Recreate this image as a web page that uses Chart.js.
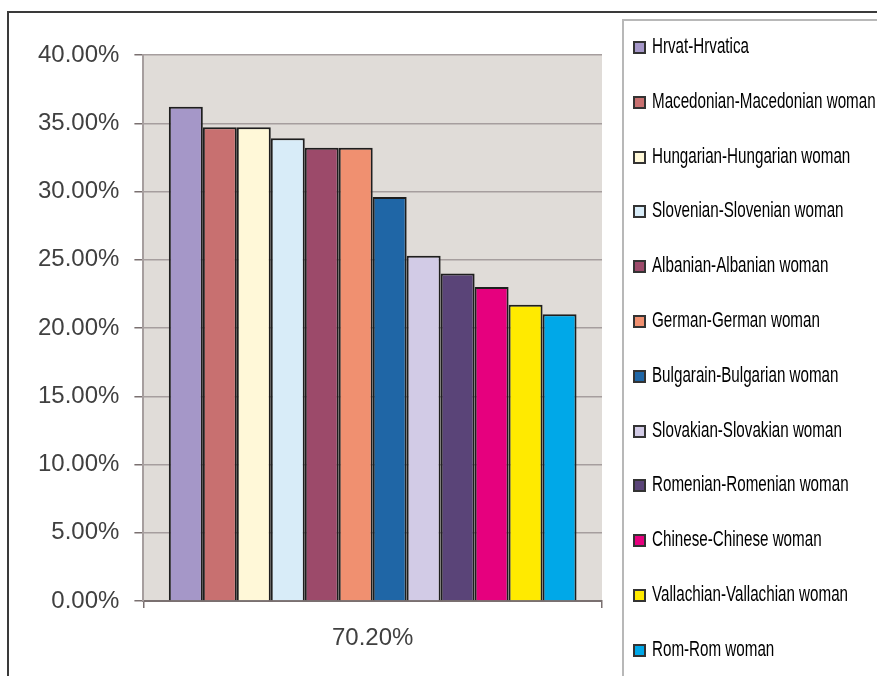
<!DOCTYPE html>
<html lang="en">
<head>
  <meta charset="UTF-8">
  <script src="https://cdn.jsdelivr.net/npm/chart.js"></script>
  <title>Chart</title>
  <style>
    html, body{margin: 0; padding: 0; background: #fff; overflow: hidden;}
    #wrap{position: absolute; left: 0; top: 0; width: 877px; height: 676px;}
    #frame{position: absolute; left: 7px; top: 11px; width: 900px; height: 700px;
           border-left: 2.5px solid #3a3a3a; border-top: 2.5px solid #3a3a3a;}
    #legendBox{position: absolute; left: 622px; top: 19px; width: 300px; height: 700px;
               border-left: 2px solid #b8b8b8; border-top: 2px solid #b8b8b8;}
    #legend{position: absolute; left: 633px; top: 20px; margin: 0; padding: 0; list-style: none;}
    #legend li{position: relative; height: 54.8px; width: 260px;}
    #legend .box{position: absolute; left: 0; top: 21px; width: 9px; height: 9px; border: 2px solid #333;}
    #legend .txt{position: absolute; left: 19px; top: 13px; white-space: nowrap; color: #000;
                 font: 22px 'Liberation Sans', Arial, sans-serif; line-height: 25px;
                 transform: scaleX(0.69); transform-origin: 0 0;}
  </style>
</head>
<body>
  <div id="wrap">
    <div id="frame"></div>
    <div id="legendBox"></div>
    <canvas id="myChart" width="877" height="676" style="position:absolute;left:0;top:0;"></canvas>
    <ul id="legend"></ul>
  </div>
  <script>
    // data
    const categories = ['70.20%'];
    const seriesNames = [
      'Hrvat-Hrvatica',
      'Macedonian-Macedonian woman',
      'Hungarian-Hungarian woman',
      'Slovenian-Slovenian woman',
      'Albanian-Albanian woman',
      'German-German woman',
      'Bulgarain-Bulgarian woman',
      'Slovakian-Slovakian woman',
      'Romenian-Romenian woman',
      'Chinese-Chinese woman',
      'Vallachian-Vallachian woman',
      'Rom-Rom woman'
    ];
    const seriesValues = [36.2, 34.7, 34.7, 33.9, 33.2, 33.2, 29.6, 25.3, 24.0, 23.0, 21.7, 21.0];
    const yTicks = [0, 5, 10, 15, 20, 25, 30, 35, 40];

    const palette = ['#a597c8', '#c87070', '#fff8d8', '#d8ecf8', '#9c4a6a', '#f09070',
                     '#1f66a6', '#d2cbe6', '#5a4478', '#e6007e', '#ffea00', '#00a8e8'];

    const datasets = seriesNames.map(function(name, i){
      return {
        label: name,
        data: [seriesValues[i]],
        backgroundColor: palette[i],
        borderColor: '#1e1e1e',
        borderWidth: 2
      };
    });

    // grey plot background
    const bgPlugin = {
      id: 'plotBg',
      beforeDraw(chart){
        const c = chart.ctx, a = chart.chartArea;
        c.save();
        c.fillStyle = '#e0dcd8';
        c.fillRect(a.left, a.top, a.right - a.left, a.bottom - a.top);
        c.restore();
      }
    };

    const ctx = document.getElementById('myChart');

    const chart = new Chart(ctx, {
      type: 'bar',
      data: {
        labels: categories,
        datasets: datasets
      },
      options: {
        responsive: false,
        animation: false,
        layout: {padding: {top: 1, left: 23, right: 275, bottom: 0}},
        datasets: {
          bar: {barPercentage: 1, categoryPercentage: 0.889}
        },
        scales: {
          x: {
            grid: {drawOnChartArea: false, tickLength: 7, color: '#7a7070', lineWidth: 1.5},
            border: {color: '#7a7070', width: 2},
            ticks: {padding: 16, color: '#404040', font: {family: 'Liberation Sans, Arial, sans-serif', size: 24}},
            afterFit: function(scale){ scale.height = 75; }
          },
          y: {
            min: 0,
            max: 40,
            afterBuildTicks: function(scale){
              scale.ticks = yTicks.map(function(v){ return {value: v}; });
            },
            grid: {color: '#a69e9e', lineWidth: 1.5, tickLength: 9, tickColor: '#7a7070'},
            border: {color: '#a69e9e', width: 2},
            ticks: {
              padding: 15,
              color: '#404040',
              font: {family: 'Liberation Sans, Arial, sans-serif', size: 24},
              callback: function(v){ return v.toFixed(2) + '%'; }
            }
          }
        },
        plugins: {
          title: {
            display: true,
            text: '',
            fullSize: false,
            font: {size: 10},
            padding: {top: 42, bottom: 0}
          },
          tooltip: {enabled: false},
          legend: {display: false}
        }
      },
      plugins: [bgPlugin]
    });

    // legend list built from the chart's own legend items
    const items = Chart.defaults.plugins.legend.labels.generateLabels(chart);
    const ul = document.getElementById('legend');
    items.forEach(function(it){
      const li = document.createElement('li');
      const box = document.createElement('span');
      box.className = 'box';
      box.style.background = it.fillStyle;
      const txt = document.createElement('span');
      txt.className = 'txt';
      txt.textContent = it.text;
      li.appendChild(box);
      li.appendChild(txt);
      ul.appendChild(li);
    });
  </script>
</body>
</html>
